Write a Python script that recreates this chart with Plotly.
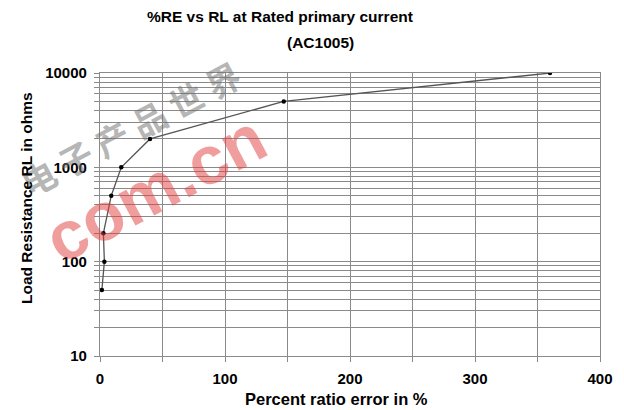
import plotly.graph_objects as go

# Data
percent_ratio_error = [1.5, 3.5, 2.7, 9, 17, 40, 147, 360]
load_resistance = [50, 100, 200, 500, 1000, 2000, 5000, 10000]

x_tick_vals = [0, 50, 100, 150, 200, 250, 300, 350, 400]
x_tick_text = ["0", "", "100", "", "200", "", "300", "", "400"]
y_decades = [10, 100, 1000, 10000]
y_decade_labels = ["10", "100", "1000", "10000"]

title_line1 = "%RE vs RL at Rated primary current"
title_line2 = "(AC1005)"
x_title = "Percent ratio error in %"
y_title = "Load Resistance RL in ohms"

# build log gridline positions (1..9 multiples per decade)
y_tick_vals = []
y_tick_text = []
for d, lab in zip(y_decades, y_decade_labels):
    if d == y_decades[-1]:
        y_tick_vals.append(d)
        y_tick_text.append(lab)
        break
    for m in range(1, 10):
        y_tick_vals.append(d * m)
        y_tick_text.append(lab if m == 1 else "")

FONT = "Liberation Sans, Arial, sans-serif"
GRID = "#8a8a8a"

# page body has an 8px offset; plot area in window px: x 100..600, y 73..356
ML, MT, PW, PH = 92, 65, 500, 283


def px_to_paper(wx, wy):
    return (wx - 8 - ML) / PW, 1 - (wy - 8 - MT) / PH


fig = go.Figure()
fig.add_trace(go.Scatter(
    x=percent_ratio_error, y=load_resistance, mode="lines+markers",
    line=dict(color="#555555", width=1.3),
    marker=dict(color="black", size=4.5),
    showlegend=False,
))

fig.update_layout(
    width=624, height=410,
    margin=dict(l=ML, r=624 - ML - PW, t=MT, b=410 - MT - PH, autoexpand=False),
    paper_bgcolor="white", plot_bgcolor="white",
    font=dict(family=FONT, size=12, color="black"),
    showlegend=False,
)
tickfont = dict(family=FONT, size=15, color="black", weight="bold")
fig.update_xaxes(
    range=[0, 400], tickvals=x_tick_vals, ticktext=x_tick_text,
    showgrid=True, gridcolor=GRID, gridwidth=1.3,
    showline=True, linecolor=GRID, linewidth=1.3, mirror=True,
    ticks="outside", ticklen=5, tickcolor=GRID, tickwidth=1.3,
    tickfont=tickfont, zeroline=False, ticklabelstandoff=4,
)
fig.update_yaxes(
    type="log", range=[1, 4], tickvals=y_tick_vals, ticktext=y_tick_text,
    showgrid=True, gridcolor=GRID, gridwidth=1.3,
    showline=True, linecolor=GRID, linewidth=1.3, mirror=True,
    ticks="outside", ticklen=5, tickcolor=GRID, tickwidth=1.3,
    tickfont=tickfont, zeroline=False, ticklabelstandoff=4,
)


def add_text(text, wx, wy, size, angle=0, color="black", family=FONT):
    x, y = px_to_paper(wx, wy)
    fig.add_annotation(text=text, x=x, y=y, xref="paper", yref="paper",
                       xanchor="center", yanchor="middle", showarrow=False,
                       textangle=angle,
                       font=dict(family=family, size=size, color=color, weight="bold"))


# watermark (behind titles)
add_text("com.cn", 155, 188, 68, angle=-28, color="rgba(225,60,60,0.5)")
add_text("电 子 产 品 世 界", 130, 128, 34, angle=-28, color="rgba(110,110,110,0.5)",
         family="Noto Sans CJK SC")

add_text(title_line1, 280, 17, 15.5)
add_text(title_line2, 320, 43, 15.5)
add_text(x_title, 336, 399, 16.5)
add_text(y_title, 26, 198, 15.5, angle=-90)

fig.write_html("out.html")
